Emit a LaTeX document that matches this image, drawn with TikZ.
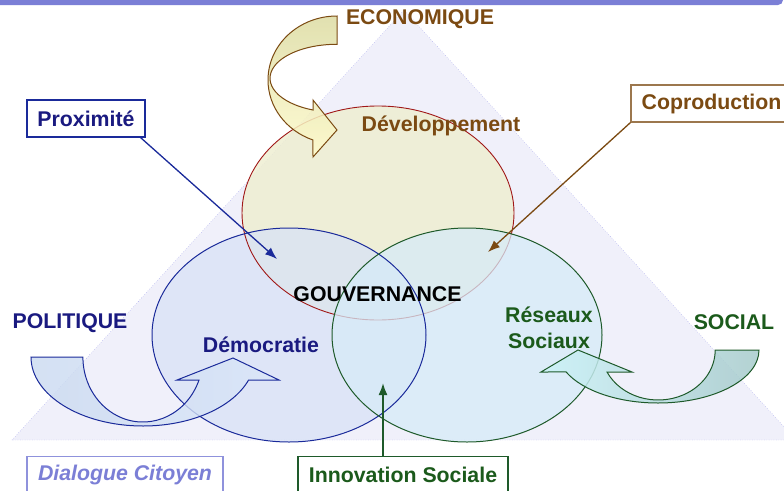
\documentclass[tikz,border=0pt]{standalone}
\usepackage{fontspec}
\setmainfont{Liberation Sans}
\usetikzlibrary{arrows.meta,calc,positioning}
\definecolor{ecobrown}{HTML}{7B4A12}
\definecolor{polblue}{HTML}{1A1A80}
\definecolor{socgreen}{HTML}{1B5A1B}
\definecolor{barpurple}{HTML}{7B7FD6}
\definecolor{tridot}{HTML}{8A8AE6}
\definecolor{trifill}{HTML}{F0F0FA}
\definecolor{devfill}{HTML}{EEEED2}
\definecolor{demfill}{HTML}{D8E2F6}
\definecolor{resfill}{HTML}{D6EBF8}
\definecolor{devline}{HTML}{A01818}
\definecolor{demline}{HTML}{1A2A9A}
\definecolor{resline}{HTML}{1E5A2A}
\definecolor{ecoback}{HTML}{DCDBA2}
\definecolor{ecofront}{HTML}{FFFBCC}
\definecolor{polback}{HTML}{C9D9F0}
\definecolor{polfront}{HTML}{DAE6F8}
\definecolor{socback}{HTML}{A6CACB}
\definecolor{socfront}{HTML}{CCF3F8}
\tikzstyle{gouv}=[
  x=1pt,y=-1pt,>={Latex[length=12pt,width=9pt]},
  font=\fontsize{21.3}{26}\selectfont\bfseries
]
\tikzstyle{ecotext}=[text=ecobrown]
\tikzstyle{poltext}=[text=polblue]
\tikzstyle{soctext}=[text=socgreen]
\tikzstyle{labelbox}=[
  draw,line width=1.2pt,fill=white,minimum height=37pt,inner sep=0pt
]
\tikzstyle{pointer}=[->,line width=1.3pt]
\tikzstyle{bandeco}=[
  draw=ecobrown,line width=1pt,top color=ecoback,bottom color=ecofront,fill opacity=0.85
]
\tikzstyle{bandpol}=[
  draw=demline,line width=1pt,left color=polback,right color=polfront,fill opacity=0.8
]
\tikzstyle{bandsoc}=[
  draw=resline,line width=1pt,left color=socfront,right color=socback,fill opacity=0.85
]

\begin{document}
\begin{tikzpicture}[gouv]
    \useasboundingbox (0,0) rectangle (784,490);
    \fill[barpurple,rounded corners=5pt] (-10,-10) rectangle (783,5);
    \draw[tridot,dotted,fill=trifill] (12,440) -- (404,10) -- (796,440) -- cycle;

    \fill[devfill,fill opacity=0.85] (378,213) ellipse [x radius=136, y radius=107];
    \fill[demfill,fill opacity=0.75] (289,335) ellipse [x radius=137, y radius=107];
    \draw[devline,line width=0.9pt] (378,213) ellipse [x radius=136, y radius=107];
    \fill[resfill,fill opacity=0.75] (467,335) ellipse [x radius=135, y radius=107];
    \draw[demline,line width=1pt] (289,335) ellipse [x radius=137, y radius=107];
    \draw[resline,line width=1pt] (467,335) ellipse [x radius=135, y radius=107];

    \draw[bandeco] (337,16) arc[start angle=-90, end angle=-249.6, x radius=69, y radius=64]
      -- (313,157) -- (337,130) -- (313,100) -- (313,110)
      arc[start angle=-249, end angle=-90, x radius=67, y radius=34] -- cycle;
    \draw[bandpol] (31,357) arc[start angle=180, end angle=19.5, x radius=112, y radius=69]
      -- (279,380) -- (233,358) -- (177,380) -- (199,380)
      arc[start angle=20.7, end angle=180, x radius=60, y radius=65] -- cycle;
    \draw[bandsoc] (759,350) arc[start angle=0, end angle=155.5, x radius=101, y radius=53]
      -- (541,372) -- (578,350) -- (632,372) -- (607,372)
      arc[start angle=153.9, end angle=0, x radius=57, y radius=50] -- cycle;

    \node[ecotext] (eco) at (420,19) {ECONOMIQUE};
    \node[ecotext] (dev) at (441,126) {Développement};
    \node (gouvernance) at (377.5,294) {GOUVERNANCE};
    \node[poltext] (dem) at (261,345) {Démocratie};
    \node[soctext,align=center] (res) at (549,328) {Réseaux\\Sociaux};
    \node[poltext] (pol) at (70,323) {POLITIQUE};
    \node[soctext] (soc) at (734,322) {SOCIAL};

    \node[labelbox,draw=demline,poltext,minimum width=118pt] (prox) at (86,118.5) {Proximité};
    \node[labelbox,draw=ecobrown!75,ecotext,minimum width=161pt] (coprod) at (711.5,103.5) {Coproduction};
    \node[labelbox,draw=barpurple!85,text=barpurple,minimum width=196pt,font=\fontsize{21.3}{26}\selectfont\bfseries\itshape] (dialogue) at (125,475) {Dialogue Citoyen};
    \node[labelbox,draw=resline,soctext,minimum width=210pt] (innov) at (403,475) {Innovation Sociale};

    \coordinate (proxend) at (277,259);
    \coordinate (coprodend) at (488,252);
    \coordinate (innovend) at (383,383);
    \draw[pointer,demline] ($(prox.south east)+(-5,0)$) -- (proxend);
    \draw[pointer,ecobrown] (coprod.south west) -- (coprodend);
    \draw[pointer,resline,line width=1.8pt] (innovend |- innov.north) -- (innovend);
\end{tikzpicture}
\end{document}
